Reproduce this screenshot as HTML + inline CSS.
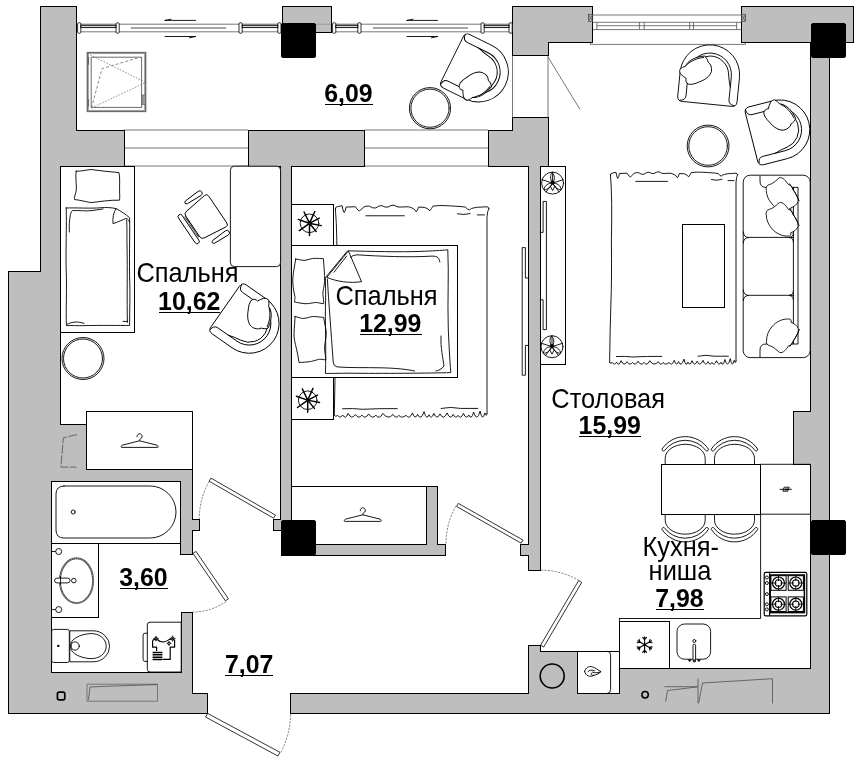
<!DOCTYPE html>
<html><head><meta charset="utf-8">
<style>
html,body{margin:0;padding:0;background:#fff;}
body{width:859px;height:763px;overflow:hidden;font-family:"Liberation Sans",sans-serif;}
svg{display:block;}
.w{fill:#bebebe;stroke:#000;stroke-width:1;stroke-linejoin:miter;}
.k{fill:#000;stroke:#000;stroke-width:1;}
.f{fill:#fff;stroke:#000;stroke-width:0.9;}
rect.f:not([rx]){shape-rendering:crispEdges;stroke-width:1;}
.n{fill:none;stroke:#000;stroke-width:0.9;stroke-linecap:round;stroke-linejoin:round;}
.nb{fill:none;stroke:#000;stroke-width:1.3;stroke-linecap:round;stroke-linejoin:round;}
.t{fill:none;stroke:#4a4a4a;stroke-width:0.75;}
.g{fill:none;stroke:#6e6e6e;stroke-width:0.9;}
.d{fill:#fff;stroke:#000;stroke-width:0.8;}
.a{fill:none;stroke:#333;stroke-width:0.6;stroke-dasharray:2.2 1.2;}
text{font-family:"Liberation Sans",sans-serif;fill:#000;}
.lb{font-size:26.9px;}
.nm{font-size:26.45px;font-weight:bold;}
.ul{stroke:#000;stroke-width:1;}
</style></head><body>
<svg width="859" height="763" viewBox="0 0 859 763">
<rect width="859" height="763" fill="#fff"/>

<g class="t">
<path d="M76,24.2H512.5M76,31.8H512.5"/>
<path d="M124,130H248M124,148H248M124,166H248M364.5,130H488M364.5,148H488M364.5,166H488"/>
<path d="M512.5,55V117M548,55V117M548,57L580,109.5"/>
<path d="M592.7,15H741.5M592.7,22.3H741.5M596.9,25.7H736.7M592.7,29.6H741.5M590.4,44.4H745.4M590.4,42V44.4M745.4,42V44.4"/>
<path d="M596.9,22.3V29.6M639.4,22.3V29.6M644.2,22.3V29.6M689.7,22.3V29.6M693.5,22.3V29.6M736.7,22.3V29.6"/>
</g>
<g class="w" shape-rendering="crispEdges">
<path d="M40,6H76V130H124V166H60.5V424H86V469H192.5V519H199V530H192.5V554H180.5V481H51V672H181V612H192.5V693H207.5V713H8.5V271.5H40Z"/>
<rect x="282" y="6" width="49" height="26.5"/>
<path d="M248,130H364.5V166H291.5V544H426V486H437.5V544H445.5V555H281V530H273.5V519.5H280.5V166H248Z"/>
<path d="M512.5,6H592.5V42H548V55H512.5Z"/>
<path d="M512.5,117H548V166H540.2V570H528.4V555H520V544H528.4V166H488V130H512.5Z"/>
<path d="M741.5,6H853V42H829.5V713H290.5V693H528.4V645.5H540.5V651H577.5V693H619.4V668.5H810.3V464.3H793.5V411.5H810.3V42H741.5Z"/>
</g>

<path d="M316,24.2H331" stroke="#8a8a8a" stroke-width="0.7" fill="none"/>
<g class="t"><rect x="588.5" y="14.6" width="4.2" height="6.7"/><path d="M588.5,14.6L592.7,21.3M592.7,14.6L588.5,21.3"/><rect x="741.5" y="14.6" width="4" height="6.7"/><path d="M741.5,14.6L745.5,21.3M745.5,14.6L741.5,21.3"/></g>
<rect class="d" x="77.6" y="22.8" width="3.2" height="10.4" rx="1" stroke="#555"/><rect class="d" x="116.0" y="22.8" width="3.2" height="10.4" rx="1" stroke="#555"/><rect x="80.8" y="25.3" width="35.20000000000001" height="2.3" fill="#ddd" stroke="#000" stroke-width="0.9"/>
<rect class="d" x="239" y="22.8" width="3.2" height="10.4" rx="1" stroke="#555"/><rect class="d" x="277.8" y="22.8" width="3.2" height="10.4" rx="1" stroke="#555"/><rect x="242.2" y="25.3" width="35.6" height="2.3" fill="#ddd" stroke="#000" stroke-width="0.9"/>
<rect class="d" x="332.6" y="22.8" width="3.2" height="10.4" rx="1" stroke="#555"/><rect class="d" x="357.8" y="22.8" width="3.2" height="10.4" rx="1" stroke="#555"/><rect x="335.8" y="25.3" width="21.99999999999998" height="2.3" fill="#ddd" stroke="#000" stroke-width="0.9"/>
<rect class="d" x="481" y="22.8" width="3.2" height="10.4" rx="1" stroke="#555"/><rect class="d" x="509.00000000000006" y="22.8" width="3.2" height="10.4" rx="1" stroke="#555"/><rect x="484.2" y="25.3" width="24.800000000000047" height="2.3" fill="#ddd" stroke="#000" stroke-width="0.9"/>
<path d="M130.7,28H226M373,28H468" stroke="#8a8a8a" stroke-width="1.6" fill="none"/>
<path class="n" d="M165,20.4H195.5M165,20.4L171,19.2M165,36.5H195.5M195.5,36.5L189.5,37.8" stroke-width="0.9"/>
<path class="n" d="M407,20.4H437.5M407,20.4L413,19.2M407,36.5H437.5M437.5,36.5L431.5,37.8" stroke-width="0.9"/>
<g fill="none" stroke="#6a6a6a">
<rect x="87.4" y="52.6" width="58.2" height="58.8" stroke-width="1.5" fill="#fff"/>
<rect x="88.6" y="53.8" width="55.8" height="56.4" stroke-width="0.5"/>
<rect x="91.2" y="57.2" width="50.4" height="50.2" stroke-width="1"/>
<path d="M87.5,53.5L145.5,82.5L91.5,108" stroke-width="0.7" stroke-dasharray="1.6 1.4"/>
<path d="M91.5,108L102,68.6L139,57.6" stroke-width="0.8" stroke-dasharray="3 2"/>
<rect x="142" y="95" width="3.4" height="9.5" stroke-width="0.8" fill="#999"/>
<path d="M88.3,56.8V64.7M88.3,99V106.4" stroke-width="1.6"/>
</g>
<circle class="f" cx="430" cy="108.2" r="20.6"/><circle class="n" cx="430" cy="108.2" r="19.1"/>
<circle class="f" cx="708.1" cy="146" r="20.9"/><circle class="n" cx="708.1" cy="146" r="19.3"/>
<circle class="f" cx="83" cy="358.5" r="21"/><circle class="n" cx="83" cy="358.5" r="19.5"/>
<g transform="translate(452.2,59.1) rotate(26.3) scale(1,-1)">
<path class="f" d="M5,-29.8H29.4A29.8,29.8 0 0 1 29.4,29.8H5Q0,29.8 0,24.8V-24.8Q0,-29.8 5,-29.8Z"/>
<path class="n" d="M0.9,-27.2Q1.4,-21.7 6,-21.6H29.4A21.6,21.6 0 0 1 29.4,21.6H6Q1.4,21.7 0.9,27.2"/>
<path class="n" d="M20,-19.6Q24,-18.9 29.4,-18.8A18.8,18.8 0 0 1 32,18.6Q25,19.6 19,21.6"/>
<g transform="translate(0.3,-0.6)"><path class="f" d="M26.4,-28C28,-29.6 30,-30.2 31.5,-29.6C33,-28 34.5,-26.5 35,-24.5C40.5,-23 45.5,-16 47.1,-6.5C46,-4.5 43.5,-3 41.4,-2.4C40,0.6 36,2.1 32.7,1.9C28,1.5 23,-4 20.6,-9.7C18.5,-13 17,-17 17.6,-20C18.5,-22.2 21,-23.2 23,-22.5C24,-24.5 25,-26.5 26.4,-28Z"/>
<path class="n" d="M36.5,-23.4C41,-20 44.5,-13 45.6,-7.2" stroke-width="0.6"/></g>
</g>
<g transform="translate(225.2,306.6) rotate(35)">
<path class="f" d="M5,-29.8H29.4A29.8,29.8 0 0 1 29.4,29.8H5Q0,29.8 0,24.8V-24.8Q0,-29.8 5,-29.8Z"/>
<path class="n" d="M0.9,-27.2Q1.4,-21.7 6,-21.6H29.4A21.6,21.6 0 0 1 29.4,21.6H6Q1.4,21.7 0.9,27.2"/>
<path class="n" d="M20,-19.6Q24,-18.9 29.4,-18.8A18.8,18.8 0 0 1 32,18.6Q25,19.6 19,21.6"/>
<g transform="translate(0.3,-0.6)"><path class="f" d="M26.4,-28C28,-29.6 30,-30.2 31.5,-29.6C33,-28 34.5,-26.5 35,-24.5C40.5,-23 45.5,-16 47.1,-6.5C46,-4.5 43.5,-3 41.4,-2.4C40,0.6 36,2.1 32.7,1.9C28,1.5 23,-4 20.6,-9.7C18.5,-13 17,-17 17.6,-20C18.5,-22.2 21,-23.2 23,-22.5C24,-24.5 25,-26.5 26.4,-28Z"/>
<path class="n" d="M36.5,-23.4C41,-20 44.5,-13 45.6,-7.2" stroke-width="0.6"/></g>
</g>
<g transform="translate(706.9,103.9) rotate(-84.3)">
<path class="f" d="M5,-29.8H29.4A29.8,29.8 0 0 1 29.4,29.8H5Q0,29.8 0,24.8V-24.8Q0,-29.8 5,-29.8Z"/>
<path class="n" d="M0.9,-27.2Q1.4,-21.7 6,-21.6H29.4A21.6,21.6 0 0 1 29.4,21.6H6Q1.4,21.7 0.9,27.2"/>
<path class="n" d="M20,-19.6Q24,-18.9 29.4,-18.8A18.8,18.8 0 0 1 32,18.6Q25,19.6 19,21.6"/>
<g transform="translate(0.3,-0.6)"><path class="f" d="M26.4,-28C28,-29.6 30,-30.2 31.5,-29.6C33,-28 34.5,-26.5 35,-24.5C40.5,-23 45.5,-16 47.1,-6.5C46,-4.5 43.5,-3 41.4,-2.4C40,0.6 36,2.1 32.7,1.9C28,1.5 23,-4 20.6,-9.7C18.5,-13 17,-17 17.6,-20C18.5,-22.2 21,-23.2 23,-22.5C24,-24.5 25,-26.5 26.4,-28Z"/>
<path class="n" d="M36.5,-23.4C41,-20 44.5,-13 45.6,-7.2" stroke-width="0.6"/></g>
</g>
<g transform="translate(751.5,137) rotate(-14.3)">
<path class="f" d="M5,-29.8H29.4A29.8,29.8 0 0 1 29.4,29.8H5Q0,29.8 0,24.8V-24.8Q0,-29.8 5,-29.8Z"/>
<path class="n" d="M0.9,-27.2Q1.4,-21.7 6,-21.6H29.4A21.6,21.6 0 0 1 29.4,21.6H6Q1.4,21.7 0.9,27.2"/>
<path class="n" d="M20,-19.6Q24,-18.9 29.4,-18.8A18.8,18.8 0 0 1 32,18.6Q25,19.6 19,21.6"/>
<g transform="translate(0.3,-0.6)"><path class="f" d="M26.4,-28C28,-29.6 30,-30.2 31.5,-29.6C33,-28 34.5,-26.5 35,-24.5C40.5,-23 45.5,-16 47.1,-6.5C46,-4.5 43.5,-3 41.4,-2.4C40,0.6 36,2.1 32.7,1.9C28,1.5 23,-4 20.6,-9.7C18.5,-13 17,-17 17.6,-20C18.5,-22.2 21,-23.2 23,-22.5C24,-24.5 25,-26.5 26.4,-28Z"/>
<path class="n" d="M36.5,-23.4C41,-20 44.5,-13 45.6,-7.2" stroke-width="0.6"/></g>
</g>
<rect class="f" x="60.5" y="166.5" width="74" height="166"/>
<path class="n" d="M76.2,171.2C80,171.6 86,170 91,169.5C100,170.6 110,172 119,172.6C120.2,178 119.4,186 119.6,192C119.8,196 119.8,199 119.5,200.2C110,199.8 99,201.8 91,202.6C85,201.6 79,199.8 74.6,199.6C73.4,197.6 76.6,193 76.4,188C76.2,182 75.4,176 76.2,171.2Z"/>
<path class="n" d="M66.2,208C75,207.6 92,208.6 100,207.8C106,207.2 112,207.6 116,208.6C121,211 126,214.6 129.6,217.8C130,235 129,260 129.8,285C130.2,300 129.4,318 129.6,325.4C120,325.6 100,325.2 85,325.6C78,325.8 70,325.4 66.4,325.6C65.8,310 67,290 66.2,270C65.6,250 66.8,225 66.2,208Z"/>
<path class="n" d="M69.4,232C69.2,228 69.2,224 69.6,221C70,216 70.6,212 72.4,210.6C80,210.2 86,211.4 92,210.6C96,210 100,209.4 103,209"/>
<path class="n" d="M127.4,322.4C126.8,300 127.6,270 127,245C126.8,235 127.2,226 126.6,220"/>
<path class="n" d="M116,208.6C113.6,212 112.4,218 113,223.6C118,222 123,219.6 126.4,218.4C127.6,218.8 128.8,220 129.6,222"/>
<path class="n" d="M67,324.4C72,321.6 78,321.2 84,323.4M123,321.4H127.4"/>
<rect class="f" x="230.4" y="166.2" width="50.2" height="100.4" rx="4"/>
<g transform="translate(205.3,217.9) rotate(56)"><path class="f" d="M-16,-15H16.2Q19.4,-15 19,-12L16,12Q15.6,15.2 12.5,15.2H-12.5Q-15.6,15.2 -16,12L-19,-12Q-19.4,-15 -16,-15Z"/><path d="M-12.5,16.1H12.5" stroke="#222" stroke-width="1.7" stroke-dasharray="0.9 0.5" fill="none"/><rect class="f" x="-17.2" y="17.8" width="34.4" height="4.5" rx="2.2"/><path class="f" d="M-26,-9Q-26,-11.6 -23.5,-11.6Q-21,-11.6 -21,-9L-21.8,6.8Q-22.3,8.6 -23.5,8.6Q-24.7,8.6 -25.2,6.8Z"/><path class="f" d="M22,-9.5Q22,-12.1 24.5,-12.1Q27,-12.1 27,-9.5L26.2,6.3Q25.7,8.1 24.5,8.1Q23.3,8.1 22.8,6.3Z"/></g>
<rect class="f" x="86.2" y="411.4" width="106.4" height="57.7"/>
<path class="n" d="M137.0,436.8A2.6,2.6 0 1 1 141.4,438.20000000000005L139.6,439.6V440.8L157.1,445.20000000000005Q159.2,447.40000000000003 157.1,447.40000000000003H122.1Q120.0,447.40000000000003 122.1,445.20000000000005L139.6,440.8" stroke-width="1"/>
<path class="t" d="M77,434.5L63.4,437.9L60.9,467.1H76.6" stroke-dasharray="9 1.5"/>
<path class="n" vector-effect="non-scaling-stroke" transform="translate(335.4,206.3) scale(1.208,1.102) translate(-610.5,-172.8)" d="M610.5,175 Q610.3,173.4 612,173.2 L616,172.3 Q617.2,178.8 617.9,178.4 Q618.8,177 619.4,173.5 L627,173.2 Q629.6,177.2 630.4,176.9 Q632.5,175.5 633.8,173.5 Q636,172.2 638.8,172.7 Q641,174.8 643.9,174.3 Q646.5,172 649,172.2 Q651.5,174 654,173.5 Q656.5,171.6 659.1,171.8 Q661.5,173.8 664.1,173.5 L670.9,173.2 Q676.2,174.5 677.4,177.8 Q678.6,176.5 679.3,173.5 L684.4,173.8 Q687.6,175 688.6,176.9 Q690,175 691.2,172.7 Q696,171.8 701.3,172.2 Q706,172.4 709.7,172.7 Q715,173 718.2,173.5 Q720,176.3 721.5,176 Q723,174.5 724.9,174.3 Q728,173.4 731.7,173.5 L735.9,173.2 Q737.4,173.4 737.6,174.6M610.5,175Q612.4,200 611.4,240Q611.8,280 611,300Q610,330 609.6,362.2M737.6,174.6Q736.4,177 736,182V361M609.6,362.2Q609.8,364.2 612.5,362.6Q614.5,365.8 616.5,362.2Q618.8,366.8 621.1,360.7Q624.0,367.0 627,361.7Q629.8,366.2 632.5,362.3Q635.2,366.5 638,361.2Q641.0,366.4 644,362.4Q646.9,366.7 649.8,360.7Q654.0,367.0 658.2,361.7Q660.6,366.1 663,362.6Q666.0,365.7 669,362.4Q671.6,366.9 674.3,360.3Q676.4,367.2 678.5,361.6Q681.2,367.9 683.9,359.1Q686.0,367.7 688,362Q690.0,366.9 692,360.7Q694.5,367.3 697.1,361.2Q700.0,367.5 703,360.3Q705.5,367.2 708,361.7Q710.0,366.1 712,362.5Q714.2,366.6 716.5,360.7Q718.8,366.8 721,362.2Q723.0,367.4 724.9,359.5Q727.6,369.2 730.3,358.6Q732.2,368.8 734.2,360.3Q735.4,364.6 736,361M635.8,181.4H667.5M711.5,179.6Q717,181 722,179.4M728,180.6H734M616.4,356.5Q625,356 633,357Q647,356.2 661.7,356.4M698,356.2Q706,354.4 714,356.2H728.4"/>
<rect class="f" x="291" y="204.4" width="42.4" height="40.8"/>
<circle class="n" cx="309.5" cy="223.3" r="9.3" stroke-width="0.9"/><path d="M309.1,222.4L304.1,212.0M309.9,222.4L314.8,211.5M310.3,222.9L319.3,218.2M310.4,223.5L321.3,225.6M310.0,224.0L316.2,231.5M309.5,224.3L309.5,235.4M308.7,223.9L299.3,230.6M308.6,223.0L298.2,219.4" stroke="#000" stroke-width="1.45" fill="none" stroke-linecap="round"/>
<rect class="f" x="291" y="377.5" width="42.4" height="41.6"/>
<circle class="n" cx="307.7" cy="400.2" r="9.3" stroke-width="0.9"/><path d="M307.3,399.3L302.3,388.9M308.1,399.3L313.0,388.4M308.5,399.8L317.5,395.1M308.6,400.4L319.5,402.5M308.2,400.9L314.4,408.4M307.7,401.2L307.7,412.3M306.9,400.8L297.5,407.5M306.8,399.9L296.4,396.3" stroke="#000" stroke-width="1.45" fill="none" stroke-linecap="round"/>
<rect class="f" x="291" y="245.2" width="166.9" height="132.3"/>
<path class="n" d="M295.7,259C299,259.6 303,260.6 305,260.3C309,259.6 312,258.2 315.2,258.3C318,258.4 321,258.8 323.4,258.6C323.8,266 324.8,274 324.6,280.7C324.4,287 322.6,291 322.9,294.4C323.2,298 323.8,301 323.7,303.7C320,303.4 317,302.2 315.2,302.5C311,303.2 308,303.8 305,303.7C301,303.4 297,302.4 294.5,302C295,298 295.2,297 294.8,296C293.4,290 292.6,284 292.8,279C293.2,272 295,264 295.7,259Z"/>
<path class="n" d="M295.1,316.5C298,317 301,318.6 303.3,318.5C307,318.2 310,316.6 313.5,316.5C317,316.5 321,317.4 323.7,317.3C324.2,323 326.4,329 326.3,333.5C326.2,339 324.4,344 324.6,348.8C324.8,353 325.8,357 325.8,359.9C322,359.4 320,359 318.6,359.4C315,360.4 312,361.4 310.1,361.6C306,362 302,362.6 299,362.4C298.4,358 297.4,353 296.5,348.8C295,343 293.8,338 294,333.5C294.2,327 295,321 295.1,316.5Z"/>
<path class="n" d="M348,250.8C370,251.4 400,252.2 420,251.4C432,251 442,250.4 447.8,249.8C449,275 447.4,300 448.2,325C448.6,340 449.8,360 450.8,372.6C430,373.2 380,373.6 350,373.2C340,373.2 330,373.6 325.4,373.4C326.4,350 324.8,320 325.6,300C325.8,292 325.4,284 325.4,278Z"/>
<path class="f" stroke-linejoin="round" d="M348.4,251L361.5,281.6C350,283.6 336,281.4 326.8,277.3Z"/><path class="n" d="M334,272.2L346.7,256"/>
<path class="n" d="M350.4,257.6Q352.5,254.8 357,254.8C380,256.4 410,257.4 430,256.2C436,255.8 439.4,256.6 439.8,262M327.4,279C328.5,300 331,330 333.2,362Q333.6,366.4 337,366.9C350,368 365,367.4 380,367.8C395,368 408,369.4 414.6,371M441,336C440.4,348 443,358 444,366C442,369 438,370.8 436,371"/>
<rect class="f" x="291" y="486.3" width="135" height="57.9"/>
<path class="n" d="M360.2,510.8A2.6,2.6 0 1 1 364.6,512.2L362.8,513.6V514.8000000000001L380.3,519.2Q382.40000000000003,521.4 380.3,521.4H345.3Q343.2,521.4 345.3,519.2L362.8,514.8000000000001" stroke-width="1"/>
<rect class="f" x="540.2" y="166.3" width="25.6" height="198.6"/>
<path class="n" d="M528.4,278H525.4V247.6H522.2V375.2H525.4V345.4H528.4" fill="#fff"/>
<path class="n" d="M540.2,232.4H543.1V201.4H546.4V329.6H543.1V299.8H540.2"/>
<circle class="n" cx="552.6" cy="183.1" r="11" stroke-width="0.9"/><path class="n" d="M552.6,183.1L552.6,172.1M552.6,183.1L563.1,179.7M552.6,183.1L559.1,192.0M552.6,183.1L546.1,192.0M552.6,183.1L542.1,179.7" stroke-width="0.7"/><path class="n" stroke-width="0.8" d="M552.6,183.1C549.4,179.1 550.6,174.1 552.0,172.5C555.0,175.1 555.2,179.5 552.6,183.1M552.6,183.1C548.6,182.6 544.2,185.6 544.0,189.7C547.6,189.7 551.0,187.1 552.6,183.1M552.6,183.1C556.6,182.6 561.0,185.6 561.2,189.7C557.6,189.7 554.2,187.1 552.6,183.1M550.4,186.29999999999998L552.6,190.5L554.8000000000001,186.29999999999998"/><circle cx="552.6" cy="182.6" r="2.1" fill="#000"/>
<circle class="n" cx="552" cy="346.7" r="11" stroke-width="0.9"/><path class="n" d="M552,346.7L552.0,335.7M552,346.7L562.5,343.3M552,346.7L558.5,355.6M552,346.7L545.5,355.6M552,346.7L541.5,343.3" stroke-width="0.7"/><path class="n" stroke-width="0.8" d="M552,346.7C548.8,342.7 550,337.7 551.4,336.09999999999997C554.4,338.7 554.6,343.09999999999997 552,346.7M552,346.7C548,346.2 543.6,349.2 543.4,353.3C547,353.3 550.4,350.7 552,346.7M552,346.7C556,346.2 560.4,349.2 560.6,353.3C557,353.3 553.6,350.7 552,346.7M549.8,349.9L552,354.09999999999997L554.2,349.9"/><circle cx="552" cy="346.2" r="2.1" fill="#000"/>
<path class="n" vector-effect="non-scaling-stroke" transform="translate(610.5,172.8) scale(1,1) translate(-610.5,-172.8)" d="M610.5,175 Q610.3,173.4 612,173.2 L616,172.3 Q617.2,178.8 617.9,178.4 Q618.8,177 619.4,173.5 L627,173.2 Q629.6,177.2 630.4,176.9 Q632.5,175.5 633.8,173.5 Q636,172.2 638.8,172.7 Q641,174.8 643.9,174.3 Q646.5,172 649,172.2 Q651.5,174 654,173.5 Q656.5,171.6 659.1,171.8 Q661.5,173.8 664.1,173.5 L670.9,173.2 Q676.2,174.5 677.4,177.8 Q678.6,176.5 679.3,173.5 L684.4,173.8 Q687.6,175 688.6,176.9 Q690,175 691.2,172.7 Q696,171.8 701.3,172.2 Q706,172.4 709.7,172.7 Q715,173 718.2,173.5 Q720,176.3 721.5,176 Q723,174.5 724.9,174.3 Q728,173.4 731.7,173.5 L735.9,173.2 Q737.4,173.4 737.6,174.6M610.5,175Q612.4,200 611.4,240Q611.8,280 611,300Q610,330 609.6,362.2M737.6,174.6Q736.4,177 736,182V361M609.6,362.2Q609.8,364.2 612.5,362.6Q614.5,365.8 616.5,362.2Q618.8,366.8 621.1,360.7Q624.0,367.0 627,361.7Q629.8,366.2 632.5,362.3Q635.2,366.5 638,361.2Q641.0,366.4 644,362.4Q646.9,366.7 649.8,360.7Q654.0,367.0 658.2,361.7Q660.6,366.1 663,362.6Q666.0,365.7 669,362.4Q671.6,366.9 674.3,360.3Q676.4,367.2 678.5,361.6Q681.2,367.9 683.9,359.1Q686.0,367.7 688,362Q690.0,366.9 692,360.7Q694.5,367.3 697.1,361.2Q700.0,367.5 703,360.3Q705.5,367.2 708,361.7Q710.0,366.1 712,362.5Q714.2,366.6 716.5,360.7Q718.8,366.8 721,362.2Q723.0,367.4 724.9,359.5Q727.6,369.2 730.3,358.6Q732.2,368.8 734.2,360.3Q735.4,364.6 736,361M635.8,181.4H667.5M711.5,179.6Q717,181 722,179.4M728,180.6H734M616.4,356.5Q625,356 633,357Q647,356.2 661.7,356.4M698,356.2Q706,354.4 714,356.2H728.4"/>
<rect class="f" x="682.5" y="224" width="41.5" height="83.2"/>
<rect class="f" x="743.2" y="175.2" width="67" height="182.4" rx="7"/>
<path class="n" d="M760,176V181Q760,187.4 766,187.4H798V344H766Q760,344 760,350V357"/>
<path class="n" d="M793.4,187.4V344"/>
<path class="n" d="M793.4,237.4H748.5Q743.6,237.4 743.3,232M743.3,243Q743.6,237.6 748.5,237.6M793.4,295.3H748.5Q743.6,295.3 743.3,290M743.3,300.6Q743.6,295.5 748.5,295.5"/>
<path class="n" d="M789.4,237.4Q793.4,237.4 793.4,233M793.4,242Q793.4,237.6 789.4,237.6M789.4,295.3Q793.4,295.3 793.4,291M793.4,299.8Q793.4,295.5 789.4,295.5"/>
<g transform="translate(781.2,193.8) rotate(0) scale(0.96,0.97)"><path class="f" d="M-2,-16.5C2,-17.5 5,-13 7.5,-9.5C10,-9.5 12,-7 12.5,-4C15.5,0 18,4.5 17.5,8C16.5,11.5 13,13.5 10,14.5C10.5,16.5 9.5,18.5 7.5,18C1,18.5 -6,15 -10,10C-13.5,6 -15.5,1 -15.5,-3.5C-16.5,-6 -15,-9 -12.5,-9.5C-9,-10 -5.5,-13.5 -2,-16.5Z"/><path class="n" d="M7.5,-9.5C11,-4 14.5,1 17.5,8" stroke-width="0.6" transform="translate(1.2,-0.8)"/></g>
<g transform="translate(781.2,218.6) rotate(0) scale(0.96,0.97)"><path class="f" d="M-2,-16.5C2,-17.5 5,-13 7.5,-9.5C10,-9.5 12,-7 12.5,-4C15.5,0 18,4.5 17.5,8C16.5,11.5 13,13.5 10,14.5C10.5,16.5 9.5,18.5 7.5,18C1,18.5 -6,15 -10,10C-13.5,6 -15.5,1 -15.5,-3.5C-16.5,-6 -15,-9 -12.5,-9.5C-9,-10 -5.5,-13.5 -2,-16.5Z"/><path class="n" d="M7.5,-9.5C11,-4 14.5,1 17.5,8" stroke-width="0.6" transform="translate(1.2,-0.8)"/></g>
<g transform="translate(781.5,336.5) rotate(0) scale(0.96,-0.97)"><path class="f" d="M-2,-16.5C2,-17.5 5,-13 7.5,-9.5C10,-9.5 12,-7 12.5,-4C15.5,0 18,4.5 17.5,8C16.5,11.5 13,13.5 10,14.5C10.5,16.5 9.5,18.5 7.5,18C1,18.5 -6,15 -10,10C-13.5,6 -15.5,1 -15.5,-3.5C-16.5,-6 -15,-9 -12.5,-9.5C-9,-10 -5.5,-13.5 -2,-16.5Z"/><path class="n" d="M7.5,-9.5C11,-4 14.5,1 17.5,8" stroke-width="0.6" transform="translate(1.2,-0.8)"/></g>
<path class="f" d="M665.2,464.3V458.3A20,14 0 0 1 705.2,458.3V464.3"/><path class="f" d="M662.0,449.1A27.8,27.8 0 0 1 708.4000000000001,449.1A1.6,1.6 0 0 1 706.2,450.90000000000003A26.1,26.1 0 0 0 664.2,450.90000000000003A1.6,1.6 0 0 1 662.0,449.1Z"/>
<path class="f" d="M714.5,464.3V458.3A20,14 0 0 1 754.5,458.3V464.3"/><path class="f" d="M711.3,449.1A27.8,27.8 0 0 1 757.7,449.1A1.6,1.6 0 0 1 755.5,450.90000000000003A26.1,26.1 0 0 0 713.5,450.90000000000003A1.6,1.6 0 0 1 711.3,449.1Z"/>
<path class="f" d="M665.2,514.2V520.2A20,14 0 0 0 705.2,520.2V514.2"/><path class="f" d="M662.0,529.4000000000001A27.8,27.8 0 0 0 708.4000000000001,529.4000000000001A1.6,1.6 0 0 0 706.2,527.6A26.1,26.1 0 0 1 664.2,527.6A1.6,1.6 0 0 0 662.0,529.4000000000001Z"/>
<path class="f" d="M714.5,514.2V520.2A20,14 0 0 0 754.5,520.2V514.2"/><path class="f" d="M711.3,529.4000000000001A27.8,27.8 0 0 0 757.7,529.4000000000001A1.6,1.6 0 0 0 755.5,527.6A26.1,26.1 0 0 1 713.5,527.6A1.6,1.6 0 0 0 711.3,529.4000000000001Z"/>
<rect class="f" x="661.5" y="464.3" width="99.1" height="49.9"/>
<path class="n" d="M760.6,464.3H810.3M760.6,514.2H810.3M760.6,514.2V618.5H619.4"/>
<path d="M779.6,489.3H784M788,489.3H791.8M784.2,487.2H789.2L787.8,491.2H782.8Z" stroke="#000" stroke-width="0.9" fill="none"/><path d="M784.6,488.4H788.4L787.8,490.2H784Z" fill="#000"/>
<g fill="none" stroke="#000"><rect x="764.2" y="572.4" width="42.6" height="43.4" rx="1.6" stroke-width="1.2" fill="#fff"/><path d="M769.6,572.4V615.8" stroke-width="1.1"/><rect x="770.2" y="575" width="34.2" height="37.6" stroke-width="1.5"/>
<rect x="770.9" y="575.7" width="15.2" height="14.6" stroke-width="1"/><circle cx="778.5" cy="583" r="6" stroke-width="1.2"/><circle cx="778.5" cy="583" r="3.2" stroke-width="1.1"/><path d="M770.9,583H776.5M780.5,583H786.1M778.5,575.7V581M778.5,585V590.3" stroke-width="0.9"/>
<rect x="788.1999999999999" y="575.7" width="15.2" height="14.6" stroke-width="1"/><circle cx="795.8" cy="583" r="6" stroke-width="1.2"/><circle cx="795.8" cy="583" r="3.2" stroke-width="1.1"/><path d="M788.1999999999999,583H793.8M797.8,583H803.4M795.8,575.7V581M795.8,585V590.3" stroke-width="0.9"/>
<rect x="770.9" y="596.9000000000001" width="15.2" height="14.6" stroke-width="1"/><circle cx="778.5" cy="604.2" r="6" stroke-width="1.2"/><circle cx="778.5" cy="604.2" r="3.2" stroke-width="1.1"/><path d="M770.9,604.2H776.5M780.5,604.2H786.1M778.5,596.9000000000001V602.2M778.5,606.2V611.5" stroke-width="0.9"/>
<rect x="788.1999999999999" y="596.9000000000001" width="15.2" height="14.6" stroke-width="1"/><circle cx="795.8" cy="604.2" r="6" stroke-width="1.2"/><circle cx="795.8" cy="604.2" r="3.2" stroke-width="1.1"/><path d="M788.1999999999999,604.2H793.8M797.8,604.2H803.4M795.8,596.9000000000001V602.2M795.8,606.2V611.5" stroke-width="0.9"/>
<circle cx="766.9" cy="577.5" r="1.5" stroke-width="0.9"/>
<circle cx="766.9" cy="583" r="1.5" stroke-width="0.9"/>
<circle cx="766.9" cy="594.1" r="1.5" stroke-width="0.9"/>
<circle cx="766.9" cy="604.3" r="1.5" stroke-width="0.9"/>
<circle cx="766.9" cy="609.4" r="1.5" stroke-width="0.9"/>
</g>
<rect class="f" x="619.4" y="621" width="50.1" height="47.4"/>
<path class="n" d="M619.4,618.5V621"/>
<path d="M644.6,644.8L644.6,652.8M644.6,650.0L646.5,652.3M644.6,650.0L642.7,652.3M644.6,644.8L637.7,648.8M640.1,647.4L639.1,650.2M640.1,647.4L637.1,646.9M644.6,644.8L637.7,640.8M640.1,642.2L637.1,642.7M640.1,642.2L639.1,639.4M644.6,644.8L644.6,636.8M644.6,639.6L642.7,637.3M644.6,639.6L646.5,637.3M644.6,644.8L651.5,640.8M649.1,642.2L650.1,639.4M649.1,642.2L652.1,642.7M644.6,644.8L651.5,648.8M649.1,647.4L652.1,646.9M649.1,647.4L650.1,650.2" stroke="#000" stroke-width="1.1" fill="none" stroke-linecap="round"/>
<rect class="f" x="677" y="624" width="33.6" height="35.2" rx="7.5"/>
<rect class="f" x="693" y="644.3" width="2.6" height="16.6" rx="1" stroke-width="0.8"/>
<circle class="n" cx="694.3" cy="641" r="1.5" stroke-width="0.8"/>
<path d="M688.2,659.8H691.2L689.7,661.8ZM697.4,659.8H700.4L698.9,661.8Z" fill="#000" stroke="#000" stroke-width="0.6"/><circle cx="694.3" cy="661" r="1.1" class="n" stroke-width="0.7"/>
<rect class="f" x="577.5" y="651.2" width="41.9" height="42.2"/>
<path class="n" stroke-width="1" d="M607.5,651.2Q610.6,651.4 610.6,655V689.6Q610.6,693.2 607.5,693.4"/>
<path class="n" stroke-width="0.8" d="M584.6,671.4C585.4,667.6 589,665.8 592.4,666.8C595.6,667.8 598.4,670.4 601,671.6C598.6,673 595,673 592.4,672.2C590.6,673.4 591,675.6 593.4,675.4C590,677.4 585.4,676 584.6,671.4ZM593.4,675.4C596.4,675 599.6,673.4 601,671.6M588,671.6C589.6,669.8 592.4,669.6 594.6,670.8"/>
<circle cx="552.2" cy="676" r="12" fill="none" stroke="#000" stroke-width="1.6"/>
<circle cx="645.1" cy="694.8" r="3.2" fill="none" stroke="#000" stroke-width="1.5"/>
<path class="t" stroke-width="0.7" d="M664.5,686.7H697.5M698,678.7V703.5M665.7,701.7L667.5,690.5L697.5,686.9M698.7,703L702.5,683L772.5,678.7V703.5"/>
<rect class="f" x="51" y="481.5" width="129.8" height="61.7"/>
<path class="n" d="M64,486H150A26,26 0 0 1 150,538H64Q56,538 56,530V494Q56,486 64,486Z"/>
<circle class="n" cx="73.2" cy="512" r="2" stroke-width="0.8"/>
<rect class="f" x="51.7" y="543.2" width="46.9" height="74.1"/>
<ellipse cx="76.5" cy="580.7" rx="16.6" ry="22.4" fill="#fff" stroke="#4a4a4a" stroke-width="1.9"/>
<ellipse cx="76.5" cy="580.7" rx="16.6" ry="22.4" fill="none" stroke="#fff" stroke-width="0.5" stroke-dasharray="1.2 1"/>
<path class="n" d="M51.7,551.5H55.6M51.7,609.6H55.6" stroke-width="1.4"/>
<circle class="f" cx="58.7" cy="551.5" r="3"/><circle class="f" cx="58.7" cy="609.6" r="3"/>
<rect class="f" x="54.6" y="578.1" width="15.4" height="4.8" rx="2.4" stroke-width="1.1"/>
<path class="n" d="M60.6,576.6V584.4" stroke-width="1.2"/>
<circle class="f" cx="73.8" cy="580.6" r="2.3"/>
<rect class="f" x="51.7" y="629.4" width="17.6" height="33.1" rx="2"/>
<circle cx="58.3" cy="645.9" r="1.2" fill="#000"/>
<path class="f" d="M69.8,630.8H93A16.6,15.5 0 0 1 93,661.8H69.8Z"/>
<path class="n" d="M70.8,643.4C72,638.6 80,634.4 90,633.6C99,633 106.2,638.6 106.2,646.2C106.2,653.8 99,659.2 90,658.6C80,657.8 72,653.6 70.8,648.8Z"/>
<circle class="n" cx="75.2" cy="646" r="4.1"/>
<path class="f" d="M150,622.2H181.2V672H150Q147.3,672 147.3,669.3V624.9Q147.3,622.2 150,622.2Z"/>
<path class="n" d="M147.3,633.2H145Q143.1,633.2 143.1,635.2V659.4Q143.1,661.4 145,661.4H147.3"/>
<path d="M152.6,640.4L156,638.8Q159.6,642 163.4,642Q166.6,641.6 169.4,639.4L172.6,638.6L174.6,640.4V647.2H170.2V659.4H162.6M156.6,651V647.2H152.6V640.4" fill="none" stroke="#000" stroke-width="1.2" stroke-linejoin="round"/>
<path d="M152.6,652.4H162.4M152.6,654.8H162.4M152.6,657.2H162.4M152.6,659.4H162.4" stroke="#000" stroke-width="1.5" fill="none"/>
<path d="M156,636.0L157.17,638.6L156,641.2L154.83,638.6ZM153.4,638.6L156,639.77L158.6,638.6L156,637.4300000000001Z" fill="#fff" stroke="#000" stroke-width="0.7"/>
<path d="M172.6,635.8000000000001L173.85999999999999,638.6L172.6,641.4L171.34,638.6ZM169.79999999999998,638.6L172.6,639.86L175.4,638.6L172.6,637.34Z" fill="#fff" stroke="#000" stroke-width="0.7"/>
<path d="M169,641.1999999999999L169.99,643.4L169,645.6L168.01,643.4ZM166.8,643.4L169,644.39L171.2,643.4L169,642.41Z" fill="#fff" stroke="#000" stroke-width="0.7"/>
<rect x="57.4" y="692.2" width="7.4" height="7.6" rx="1.8" fill="none" stroke="#000" stroke-width="1.7"/>
<path class="g" d="M87,684.2H157.5V701.2H87Z" stroke="#555" stroke-width="0.8"/><path class="t" d="M88.4,700L90,687L108,686.2L140,685.2L157.5,684.6" stroke-width="0.6"/>
<path class="d" d="M275.4,515.1L210.9,478.1L209.1,481.2L273.6,518.2Z"/>
<path class="a" d="M209.1,481.5A75.3,75.3 0 0 0 199.3,518.6"/>
<path class="d" d="M193.0,553.4L225.4,600.8L228.4,598.8L196.0,551.4Z"/>
<path class="a" d="M226.1,601.5A58,58 0 0 1 192.8,612.0"/>
<path class="d" d="M523.0,540.1L458.4,503.4L456.6,506.5L521.2,543.2Z"/>
<path class="a" d="M456.1,505.8A75.6,75.6 0 0 0 446.0,543.6"/>
<path class="d" d="M540.6,645.2L578.6,580.6L581.7,582.4L543.7,647.0Z"/>
<path class="a" d="M578.9,580.5A75.4,75.4 0 0 0 540.6,570.1"/>
<path class="d" d="M207.6,713.4L279.9,752.3L277.9,756.0L205.6,717.1Z"/>
<path class="a" d="M280.8,752.4A83,83 0 0 0 290.5,713.4"/>
<g class="k">
<rect x="281.5" y="23.5" width="34" height="34" rx="1.5"/>
<rect x="811.5" y="23.5" width="34" height="34" rx="1.5"/>
<rect x="281.5" y="520.5" width="34" height="34.5" rx="1.5"/>
<rect x="811.5" y="520.5" width="34" height="34" rx="1.5"/>
</g>
<g opacity="0.999"><text class="nm" transform="translate(324.3,102) scale(0.94,1)">6,09</text><line class="ul" x1="324.7" x2="372.6" y1="104.5" y2="104.5" shape-rendering="crispEdges"/><text class="lb" transform="translate(136.4,281.7) scale(0.946,1)">Спальня</text><text class="nm" transform="translate(158.1,310.2) scale(0.94,1)">10,62</text><line class="ul" x1="158.5" x2="220.4" y1="312.5" y2="312.5" shape-rendering="crispEdges"/><text class="lb" transform="translate(335.4,305.2) scale(0.946,1)">Спальня</text><text class="nm" transform="translate(359.2,332) scale(0.94,1)">12,99</text><line class="ul" x1="359.6" x2="421.5" y1="334.5" y2="334.5" shape-rendering="crispEdges"/><text class="lb" transform="translate(551.3,408) scale(0.946,1)">Столовая</text><text class="nm" transform="translate(578.6,434) scale(0.94,1)">15,99</text><line class="ul" x1="579.0" x2="640.9" y1="436.5" y2="436.5" shape-rendering="crispEdges"/><text class="lb" transform="translate(642.4,555.8) scale(0.946,1)">Кухня-</text><text class="lb" transform="translate(648.6,579.6) scale(0.946,1)">ниша</text><text class="nm" transform="translate(655.2,607.2) scale(0.94,1)">7,98</text><line class="ul" x1="655.6" x2="703.5" y1="609.5" y2="609.5" shape-rendering="crispEdges"/><text class="nm" transform="translate(119.3,586.0) scale(0.94,1)">3,60</text><line class="ul" x1="119.7" x2="167.6" y1="588.5" y2="588.5" shape-rendering="crispEdges"/><text class="nm" transform="translate(224.9,673.0) scale(0.94,1)">7,07</text><line class="ul" x1="225.3" x2="273.2" y1="675.5" y2="675.5" shape-rendering="crispEdges"/></g></svg>
</body></html>
